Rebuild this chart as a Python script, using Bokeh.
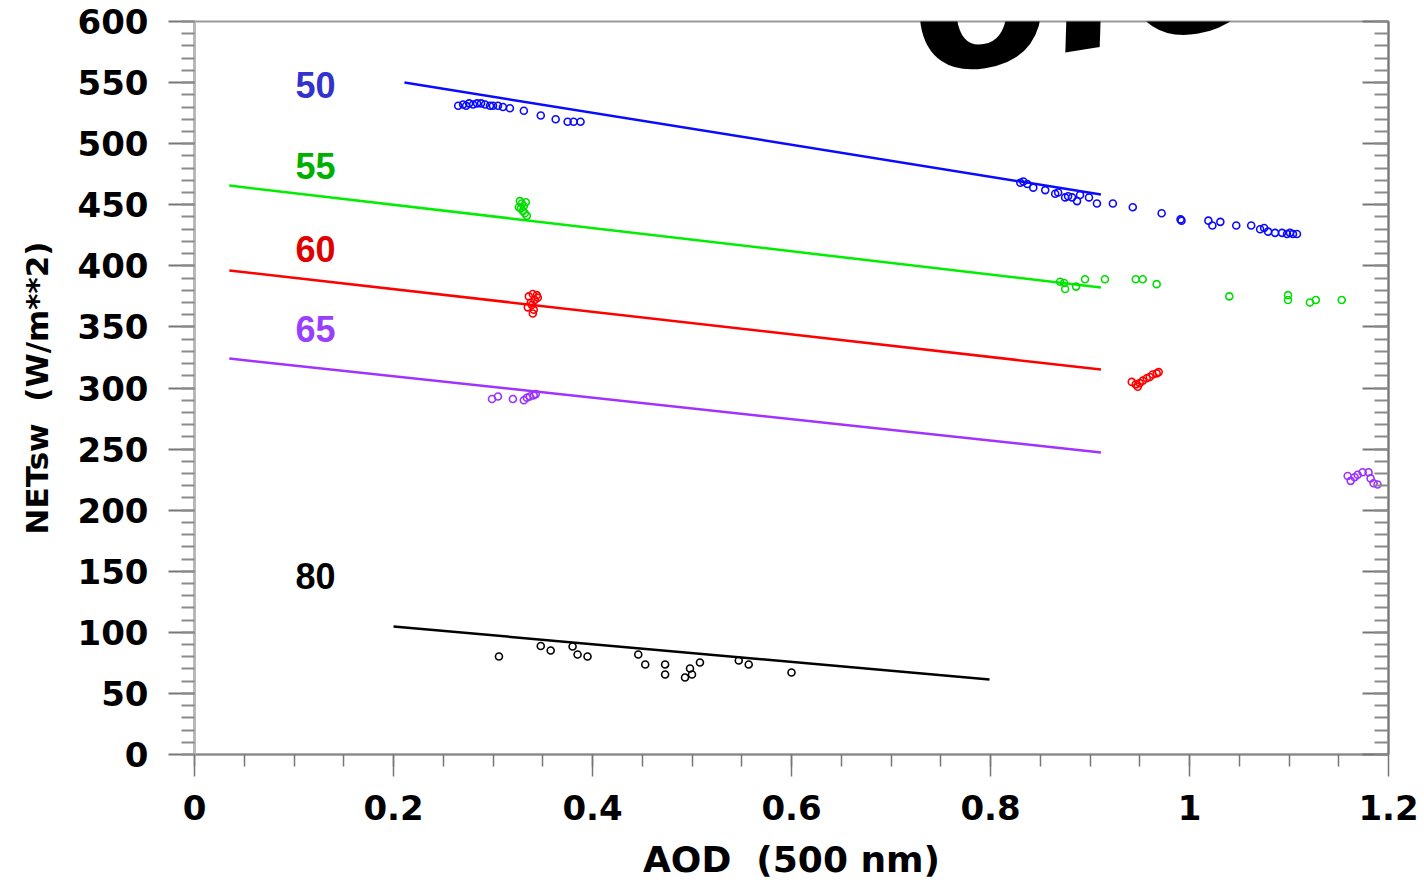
from bokeh.plotting import figure
from bokeh.models import FixedTicker, LinearAxis, Label, Range1d
from bokeh.embed import file_html
from bokeh.resources import INLINE

# ---------------- data ----------------
# regression lines (start / end)
fit50_x = [0.211, 0.911]
fit50_y = [550.0, 458.4]
fit55_x = [0.035, 0.911]
fit55_y = [465.7, 382.3]
fit60_x = [0.035, 0.911]
fit60_y = [396.2, 315.1]
fit65_x = [0.035, 0.911]
fit65_y = [324.1, 247.2]
fit80_x = [0.200, 0.799]
fit80_y = [104.8, 61.4]

# observations
obs50_x = [0.265, 0.270, 0.273, 0.276, 0.280, 0.284, 0.288, 0.292, 0.297, 0.300, 0.305, 0.310,
           0.317, 0.331, 0.348, 0.363, 0.375, 0.381, 0.388,
           0.830, 0.833, 0.837, 0.843, 0.855, 0.865, 0.868, 0.875, 0.878, 0.882, 0.887, 0.890,
           0.899, 0.907, 0.923, 0.943, 0.972, 0.991, 0.992, 1.019, 1.023, 1.031, 1.047, 1.062,
           1.071, 1.075, 1.079, 1.086, 1.093, 1.098, 1.101, 1.104, 1.108]
obs50_y = [531, 532, 531, 533, 532, 533, 533, 532, 531, 531, 531, 530,
           529, 527, 523, 520, 518, 518, 518,
           468, 469, 467, 464, 462, 459, 460, 456, 457, 456, 453, 458,
           456, 451, 451, 448, 443, 438, 437, 437, 433, 436, 433, 433,
           430, 431, 428, 427, 427, 426, 427, 426, 426]

obs55_x = [0.326, 0.327, 0.328, 0.329, 0.330, 0.331, 0.332, 0.333, 0.334,
           0.870, 0.874, 0.875, 0.886, 0.895, 0.915, 0.946, 0.953, 0.967,
           1.040, 1.099, 1.099, 1.121, 1.127, 1.153]
obs55_y = [448, 453, 447, 451, 445, 449, 443, 452, 441,
           387, 386, 381, 383, 389, 389, 389, 389, 385,
           375, 376, 372, 370, 372, 372]

obs60_x = [0.335, 0.336, 0.338, 0.339, 0.340, 0.340, 0.341, 0.342, 0.344, 0.345,
           0.942, 0.946, 0.948, 0.950, 0.953, 0.957, 0.960, 0.963, 0.967, 0.969]
obs60_y = [366, 375, 370, 368, 377, 361, 364, 372, 376, 374,
           305, 303, 301, 304, 306, 308, 309, 311, 312, 313]

obs65_x = [0.299, 0.305, 0.320, 0.331, 0.334, 0.337, 0.341, 0.343,
           1.159, 1.162, 1.166, 1.169, 1.174, 1.180, 1.182, 1.185, 1.189]
obs65_y = [291, 293, 291, 290, 292, 293, 294, 295,
           228, 224, 227, 229, 231, 231, 226, 222, 221]

obs80_x = [0.306, 0.348, 0.358, 0.380, 0.385, 0.395, 0.446, 0.453, 0.473, 0.473,
           0.493, 0.500, 0.498, 0.508, 0.547, 0.557, 0.600]
obs80_y = [80.2, 88.8, 85.1, 88.4, 81.9, 80.2, 81.9, 73.7, 73.7, 65.5,
           63.0, 65.5, 70.4, 75.3, 76.9, 73.7, 67.1]

series_names = ["50", "55", "60", "65", "80"]
label_x = 0.1216
label_y = [548, 482, 414, 348, 146]

x_ticks = [0, 0.2, 0.4, 0.6, 0.8, 1, 1.2]
x_tick_labels = ["0", "0.2", "0.4", "0.6", "0.8", "1", "1.2"]
x_minor = [i * 0.05 for i in range(25)]
y_ticks = [0, 50, 100, 150, 200, 250, 300, 350, 400, 450, 500, 550, 600]
y_minor = list(range(0, 601, 10))

# ---------------- styles ----------------
line_colors = ["#0a0aff", "#00ee00", "#ff0000", "#a033ff", "#000000"]
marker_colors = ["#0a0aff", "#00dd00", "#ff0000", "#9b30ff", "#000000"]
label_colors = ["#3333cc", "#00b000", "#e00000", "#9940ff", "#000000"]

p = figure(width=1424, height=882,
           x_range=Range1d(0, 1.2), y_range=Range1d(0, 600),
           output_backend="svg", toolbar_location=None,
           min_border_left=194, min_border_right=36,
           min_border_top=21, min_border_bottom=128)
p.grid.visible = False
p.background_fill_color = "white"
p.border_fill_color = "white"
p.outline_line_color = "#9a9a9a"
p.outline_line_width = 2

fits = [(fit50_x, fit50_y), (fit55_x, fit55_y), (fit60_x, fit60_y),
        (fit65_x, fit65_y), (fit80_x, fit80_y)]
obs = [(obs50_x, obs50_y), (obs55_x, obs55_y), (obs60_x, obs60_y),
       (obs65_x, obs65_y), (obs80_x, obs80_y)]

for (fx, fy), (ox, oy), lc, mc in zip(fits, obs, line_colors, marker_colors):
    p.line(fx, fy, line_color=lc, line_width=2.5)
    p.scatter(ox, oy, marker="circle", size=7, fill_color=None,
              line_color=mc, line_width=1.6)

for name, ly, c in zip(series_names, label_y, label_colors):
    p.add_layout(Label(x=label_x, y=ly, text=name, text_color=c,
                       text_font="Liberation Sans", text_font_style="bold",
                       text_font_size="36px", text_align="center",
                       text_baseline="middle"))

# big partly-visible word at top
p.add_layout(Label(x=0.716, y=627, text="cloud", text_color="black",
                   text_font="Liberation Sans", text_font_style="bold italic",
                   text_font_size="255px", angle=0.16, text_align="left",
                   text_baseline="alphabetic"))

# ---------------- axes ----------------
xticker = FixedTicker(ticks=x_ticks, minor_ticks=x_minor)
yticker = FixedTicker(ticks=y_ticks, minor_ticks=y_minor)

xa = p.xaxis[0]
xa.ticker = xticker
xa.major_label_overrides = {t: s for t, s in zip(x_ticks, x_tick_labels)}
xa.axis_label = "AOD \u00a0(500 nm)"
xa.axis_label_text_font = "DejaVu Sans"
xa.axis_label_text_font_style = "bold"
xa.axis_label_text_font_size = "36px"
xa.axis_label_text_color = "black"
xa.axis_label_standoff = 16
xa.major_label_text_font = "DejaVu Sans"
xa.major_label_text_font_style = "bold"
xa.major_label_text_font_size = "34px"
xa.major_label_text_color = "black"
xa.major_label_standoff = 18
xa.axis_line_color = "#8a8a8a"
xa.axis_line_width = 2
xa.major_tick_line_color = "#777777"
xa.major_tick_line_width = 1.5
xa.minor_tick_line_color = "#777777"
xa.minor_tick_line_width = 1.5
xa.major_tick_out = 22
xa.major_tick_in = 0
xa.minor_tick_out = 12
xa.minor_tick_in = 0

ya = p.yaxis[0]
ya.ticker = yticker
ya.axis_label = "NETsw \u00a0(W/m**2)"
ya.axis_label_text_font = "DejaVu Sans"
ya.axis_label_text_font_style = "bold"
ya.axis_label_text_font_size = "31px"
ya.axis_label_text_color = "black"
ya.axis_label_standoff = 20
ya.major_label_text_font = "DejaVu Sans"
ya.major_label_text_font_style = "bold"
ya.major_label_text_font_size = "34px"
ya.major_label_text_color = "black"
ya.major_label_standoff = 20
ya.axis_line_color = "#b8b8b8"
ya.axis_line_width = 3
ya.major_tick_line_color = "#777777"
ya.major_tick_line_width = 2
ya.minor_tick_line_color = "#8a8a8a"
ya.minor_tick_line_width = 2
ya.major_tick_out = 26
ya.major_tick_in = 0
ya.minor_tick_out = 13
ya.minor_tick_in = 0

ra = LinearAxis(ticker=yticker)
ra.major_label_overrides = {t: "" for t in y_ticks}
ra.major_label_text_font_size = "1px"
ra.major_label_standoff = 0
ra.axis_line_color = "#777777"
ra.axis_line_width = 2
ra.major_tick_line_color = "#777777"
ra.major_tick_line_width = 2
ra.minor_tick_line_color = "#8a8a8a"
ra.minor_tick_line_width = 2
ra.major_tick_in = 26
ra.major_tick_out = 0
ra.minor_tick_in = 14
ra.minor_tick_out = 0
p.add_layout(ra, "right")

with open("out.html", "w") as f:
    f.write(file_html(p, INLINE))
